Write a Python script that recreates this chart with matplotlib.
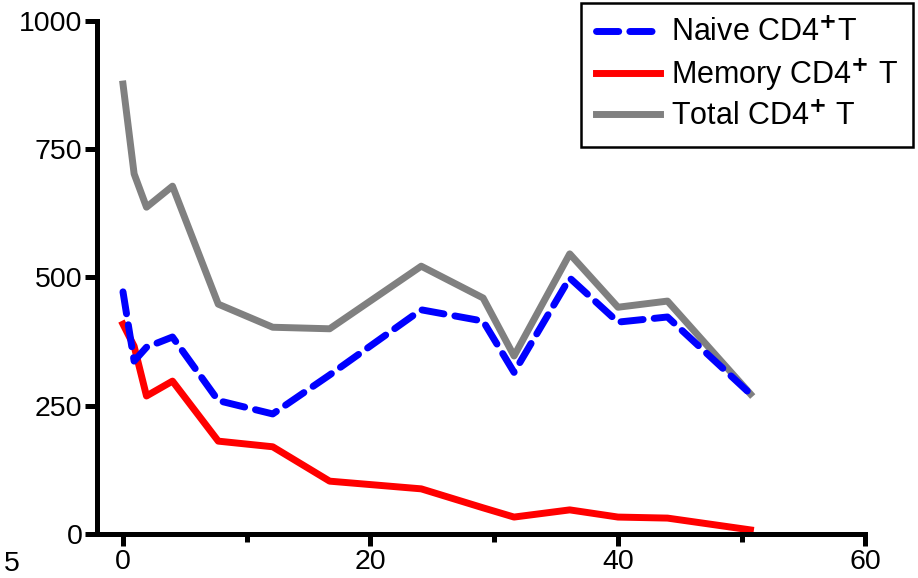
"""CD4+ T cell counts over time."""

import matplotlib
matplotlib.use("Agg")
import matplotlib.pyplot as plt
from matplotlib.ticker import MultipleLocator

plt.rcParams["font.family"] = ["Liberation Sans", "DejaVu Sans"]
plt.rcParams["mathtext.fontset"] = "custom"
plt.rcParams["mathtext.rm"] = "Liberation Sans"
plt.rcParams["mathtext.it"] = "Liberation Sans"

# time points (shared by all series)
months = [0, 0.9, 1.9, 4, 7.7, 12.1, 16.7, 24.1, 29.1, 31.6, 36.1, 40, 44, 50.7]
naive = [472, 337, 364, 384, 260, 234, 310, 437, 415, 315, 499, 413, 423, 273]
memory = [409, 366, 269, 298, 181, 170, 103, 88, 51, 33, 47, 33, 31, 8]
total = [877, 702, 637, 678, 448, 403, 400, 522, 460, 347, 546, 442, 454, 273]

labels = [r"Naive CD4$^{\mathbf{+}}$T", r"Memory CD4$^{\mathbf{+}}$ T", r"Total CD4$^{\mathbf{+}}$ T"]

W, H = 918, 578
fig = plt.figure(figsize=(W / 100, H / 100), dpi=100)
# axes box in pixels: left 97, right 915, zero line at 534, top at 3
ax = fig.add_axes([97 / W, 1 - 534 / H, (915 - 97) / W, (534 - 3) / H])

ax.plot(months, naive, color="#0000ff", lw=5, ls=(0, (3.2, 1.6)),
        dash_capstyle="round", label=labels[0], clip_on=False, zorder=3)
ax.plot(months, memory, color="#ff0000", lw=5, label=labels[1],
        clip_on=False, zorder=2)
ax.plot(months, total, color="#808080", lw=5, label=labels[2],
        clip_on=False, zorder=1)

ax.set_xlim(-2.1, 64)
ax.set_ylim(0, 1035)
ax.spines["top"].set_visible(False)
ax.spines["right"].set_visible(False)
for s in ("left", "bottom"):
    ax.spines[s].set_linewidth(3.6)
ax.spines["left"].set_bounds(0, 1000)
ax.spines["bottom"].set_bounds(-2.1, 60)

ax.set_xticks([0, 20, 40, 60])
ax.xaxis.set_minor_locator(MultipleLocator(10))
ax.set_yticks([0, 250, 500, 750, 1000])
ax.tick_params(which="major", length=8.5, width=3.6, labelsize=20.5, pad=2)
ax.tick_params(which="minor", axis="x", length=5.5, width=3.6)
ax.tick_params(axis="y", which="minor", left=False)

leg = ax.legend(loc="upper right", bbox_to_anchor=(913 / W, 1 - 3 / H),
                bbox_transform=fig.transFigure, fontsize=22, frameon=True,
                fancybox=False, edgecolor="black", framealpha=1,
                handlelength=2.1, handletextpad=0.35, labelspacing=0.28,
                borderpad=0.5, borderaxespad=0)
leg.get_frame().set_linewidth(1.8)

# stray tick label at the left edge
fig.text(4 / W, 1 - 577 / H, "5", fontsize=20.5, ha="left", va="bottom")

fig.savefig("out.png", dpi=100)
